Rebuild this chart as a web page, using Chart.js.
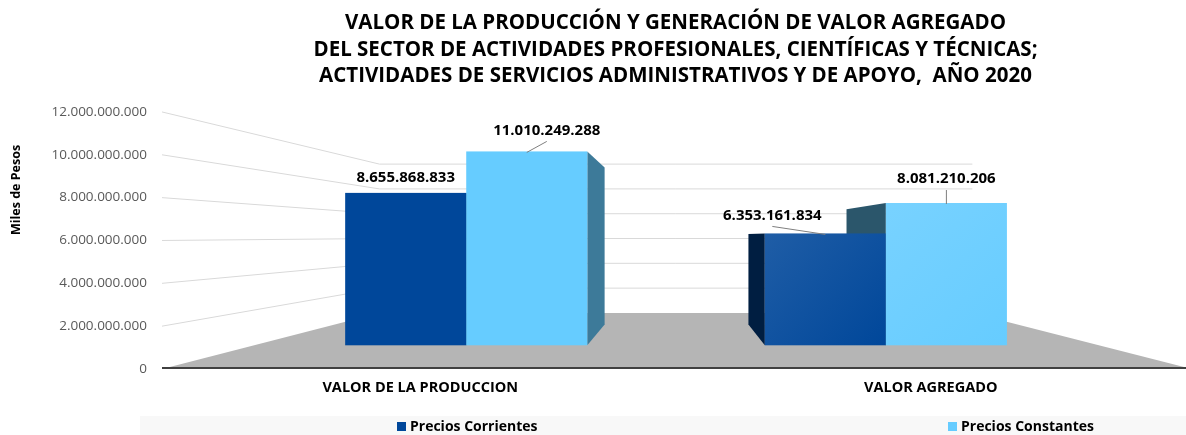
<!DOCTYPE html>
<html>
<head>
<meta charset="utf-8">
<script src="https://cdn.jsdelivr.net/npm/chart.js"></script>
<style>
  html, body { margin: 0; padding: 0; background: #fff; }
  #wrap { width: 1186px; height: 435px; }
</style>
</head>
<body>
<div id="wrap"><canvas id="chart" width="1186" height="435"></canvas></div>
<script>
// ---- data ----
const categories = ["VALOR DE LA PRODUCCION", "VALOR AGREGADO"];
const seriesNames = ["Precios Corrientes", "Precios Constantes"];
const preciosCorrientes = [8655868833, 6353161834];
const preciosConstantes = [11010249288, 8081210206];
const yTickMax = 12000000000;
const yTickStep = 2000000000;
const titleLines = [
    "VALOR DE LA PRODUCCIÓN Y GENERACIÓN DE VALOR AGREGADO",
    "DEL SECTOR DE ACTIVIDADES PROFESIONALES, CIENTÍFICAS Y TÉCNICAS;",
    "ACTIVIDADES DE SERVICIOS ADMINISTRATIVOS Y DE APOYO,  AÑO 2020"
];
const yAxisTitle = "Miles de Pesos";

// ---- look ----
const FONT = "'Open Sans', 'DejaVu Sans', sans-serif";
const COLORS = ["#00479a", "#66ccff"];
const FLOOR = "#b5b5b5";
const GRID = "#d9d9d9";

// perspective: vanishing point (fraction of chart area) and depth factors
const VIEW = { vx: 0.503, vy: 0.482, wall: 0.579, front: 0.822, back: 0.666 };

// label offsets from the top-front centre of each bar, [dataset][category]
const LABEL_POS = [
    [{ dx: 0, dy: -15 }, { dx: -53, dy: -18, leader: true }],
    [{ dx: 20, dy: -21, leader: true }, { dx: 0, dy: -24, leader: true }]
];
const LEGEND_X = [397, 948];

function fmt(v) {
    return String(Math.round(v)).replace(/\B(?=(\d{3})+(?!\d))/g, ".");
}

function shade(hex, f) {
    const n = parseInt(hex.slice(1), 16);
    const c = [(n >> 16) & 255, (n >> 8) & 255, n & 255].map(x =>
        f < 1 ? Math.round(x * f) : Math.round(x + (255 - x) * (f - 1)));
    return "rgb(" + c.join(",") + ")";
}

function poly(ctx, pts, fill) {
    ctx.beginPath();
    ctx.moveTo(pts[0].x, pts[0].y);
    for (let i = 1; i < pts.length; i++) ctx.lineTo(pts[i].x, pts[i].y);
    ctx.closePath();
    ctx.fillStyle = fill;
    ctx.fill();
}

// draws the floor, walls, boxes and labels around the normal scales
const perspective3d = {
    id: "perspective3d",

    _vp(area) {
        return { x: area.left + area.width * VIEW.vx, y: area.top + area.height * VIEW.vy };
    },

    _proj(vp, x, y, k) {
        return { x: vp.x + (x - vp.x) * k, y: vp.y + (y - vp.y) * k };
    },

    beforeDatasetsDraw(chart) {
        const ctx = chart.ctx;
        const area = chart.chartArea;
        const yScale = chart.scales.y;
        const vp = this._vp(area);
        const P = (x, y, k) => this._proj(vp, x, y, k);
        const x0 = area.left - 3;

        ctx.save();

        // floor
        poly(ctx, [
            { x: x0, y: area.bottom },
            P(x0, area.bottom, VIEW.wall),
            P(area.right, area.bottom, VIEW.wall),
            { x: area.right + 6, y: area.bottom }
        ], FLOOR);

        // grid: left side wall then back wall
        ctx.strokeStyle = GRID;
        ctx.lineWidth = 1;
        yScale.ticks.forEach(t => {
            if (t.value === 0) return;
            const y = yScale.getPixelForValue(t.value);
            const a = P(x0, y, VIEW.wall);
            const b = P(area.right, y, VIEW.wall);
            ctx.beginPath();
            ctx.moveTo(x0, y);
            ctx.lineTo(a.x, a.y);
            ctx.lineTo(b.x, b.y);
            ctx.stroke();
        });

        // axis line
        ctx.strokeStyle = "#404040";
        ctx.lineWidth = 2;
        ctx.beginPath();
        ctx.moveTo(x0, area.bottom - 1);
        ctx.lineTo(chart.width, area.bottom - 1);
        ctx.stroke();

        // boxes: side faces first, then fronts
        const boxes = [];
        chart.data.datasets.forEach((ds, di) => {
            chart.getDatasetMeta(di).data.forEach((el, i) => {
                const p = el.getProps(["x", "y", "base", "width"], true);
                const xl = p.x - p.width / 2, xr = p.x + p.width / 2;
                boxes.push({ di, i, p, xl, xr, color: ds.backgroundColor });
            });
        });

        boxes.forEach(b => {
            const right = b.p.x < vp.x;
            const xe = right ? b.xr : b.xl;
            poly(ctx, [
                P(xe, b.p.y, VIEW.front), P(xe, b.p.y, VIEW.back),
                P(xe, b.p.base, VIEW.back), P(xe, b.p.base, VIEW.front)
            ], shade(b.color, right ? 0.6 : 0.42));
        });

        boxes.forEach(b => {
            const tl = P(b.xl, b.p.y, VIEW.front), br = P(b.xr, b.p.base, VIEW.front);
            let fill = b.color;
            if (b.p.x > vp.x) {
                fill = ctx.createLinearGradient(tl.x, tl.y, br.x, br.y);
                fill.addColorStop(0, shade(b.color, 1.12));
                fill.addColorStop(1, b.color);
            }
            ctx.fillStyle = fill;
            ctx.fillRect(tl.x, tl.y, br.x - tl.x, br.y - tl.y);
            b.anchor = P(b.p.x, b.p.y, VIEW.front);
        });

        // value labels
        ctx.font = "bold 15px " + FONT;
        ctx.textAlign = "center";
        ctx.textBaseline = "middle";
        boxes.forEach(b => {
            const o = LABEL_POS[b.di][b.i];
            const lx = b.anchor.x + o.dx, ly = b.anchor.y + o.dy;
            if (o.leader) {
                ctx.strokeStyle = "#7f7f7f";
                ctx.lineWidth = 1;
                ctx.beginPath();
                ctx.moveTo(lx, ly + 11);
                ctx.lineTo(b.anchor.x, b.anchor.y + 1);
                ctx.stroke();
            }
            ctx.fillStyle = "#000";
            const v = chart.data.datasets[b.di].data[b.i];
            ctx.fillText(fmt(v), lx, ly);
        });

        // y axis title
        ctx.save();
        ctx.translate(16, 190);
        ctx.rotate(-Math.PI / 2);
        ctx.font = "bold 12.5px " + FONT;
        ctx.fillText(yAxisTitle, 0, 0);
        ctx.restore();

        // legend
        ctx.fillStyle = "#f8f8f8";
        ctx.fillRect(140, 416, chart.width - 140, chart.height - 416);
        ctx.font = "bold 14px " + FONT;
        ctx.textAlign = "left";
        chart.data.datasets.forEach((ds, di) => {
            const x = LEGEND_X[di];
            ctx.fillStyle = ds.backgroundColor;
            ctx.fillRect(x, 422, 9, 9);
            ctx.fillStyle = "#000";
            ctx.fillText(ds.label, x + 13, 427);
        });

        ctx.restore();
        return false;
    }
};

new Chart(document.getElementById("chart"), {
    type: "bar",
    data: {
        labels: categories,
        datasets: [
            { label: seriesNames[0], data: preciosCorrientes, backgroundColor: COLORS[0] },
            { label: seriesNames[1], data: preciosConstantes, backgroundColor: COLORS[1] }
        ]
    },
    options: {
        responsive: false,
        animation: false,
        layout: { padding: 0 },
        datasets: { bar: { categoryPercentage: 0.577, barPercentage: 1 } },
        plugins: {
            legend: { display: false },
            tooltip: { enabled: false },
            title: {
                display: true,
                text: titleLines,
                fullSize: false,
                color: "#000",
                font: { family: FONT, size: 20.5, weight: "bold", lineHeight: 1.3 },
                padding: { top: 10, bottom: 22 }
            }
        },
        scales: {
            x: {
                grid: { display: false, drawTicks: false },
                border: { display: false },
                ticks: {
                    color: "#000",
                    padding: 10,
                    maxRotation: 0,
                    autoSkip: false,
                    font: { family: FONT, size: 14.5, weight: "bold" }
                },
                afterFit(scale) { scale.height = 66; }
            },
            y: {
                min: 0,
                max: yTickMax,
                grid: { display: false, drawTicks: false },
                border: { display: false },
                ticks: {
                    stepSize: yTickStep,
                    padding: 18,
                    color: "#595959",
                    font: { family: FONT, size: 13.5 },
                    callback: v => fmt(v)
                },
                afterFit(scale) { scale.width = 165; }
            }
        }
    },
    plugins: [perspective3d]
});
</script>
</body>
</html>
